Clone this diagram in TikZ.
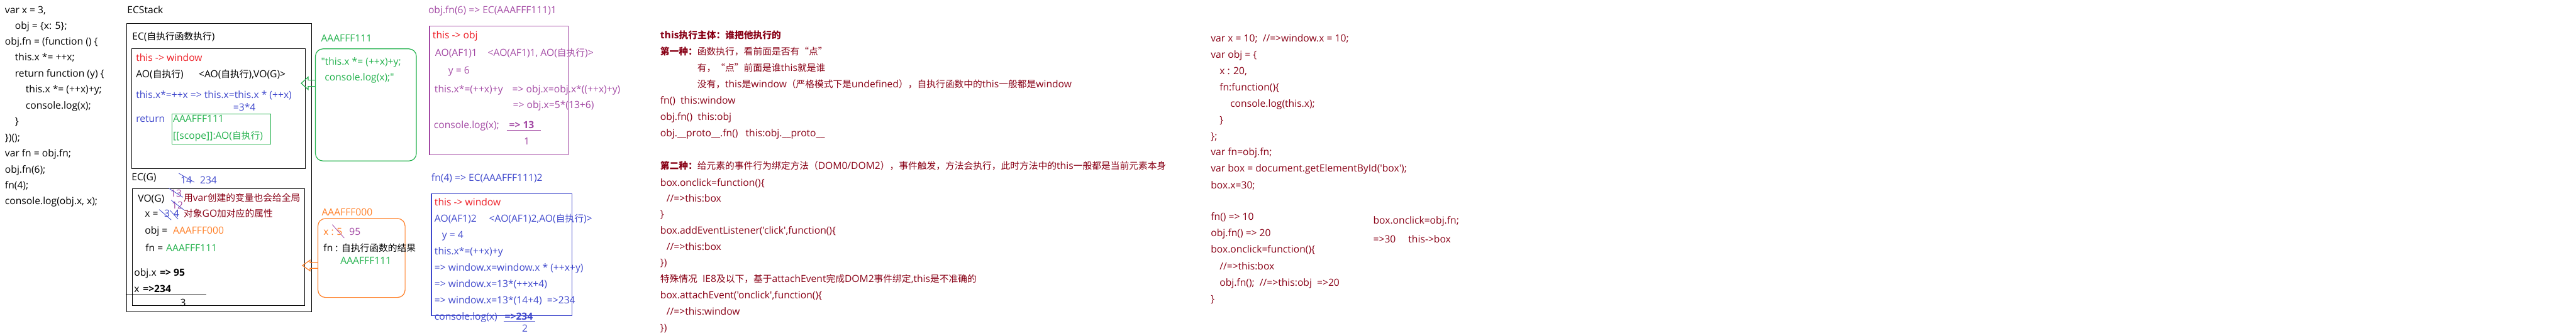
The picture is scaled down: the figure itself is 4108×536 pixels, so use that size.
\documentclass[tikz,border=0pt]{standalone}
\usepackage{fontspec}
\setmainfont{Open Sans}[Scale=1.06, Ligatures=TeXOff]
\newfontfamily\cjkfont{Noto Sans CJK SC}[Ligatures=TeXOff]
% switch to the CJK face for Chinese runs
\XeTeXinterchartokenstate=1
\newXeTeXintercharclass\cjkcls
\newcount\cjkc
\cjkc="3000
\loop
	\XeTeXcharclass\cjkc=\cjkcls
	\ifnum\cjkc<"9FFF \advance\cjkc by 1
\repeat
\cjkc="FF00
\loop
	\XeTeXcharclass\cjkc=\cjkcls
	\ifnum\cjkc<"FFEF \advance\cjkc by 1
\repeat
\XeTeXcharclass"201C=\cjkcls
\XeTeXcharclass"201D=\cjkcls
\XeTeXinterchartoks 0 \cjkcls={\begingroup\cjkfont}
\XeTeXinterchartoks 4095 \cjkcls={\begingroup\cjkfont}
\XeTeXinterchartoks \cjkcls 0={\endgroup}
\XeTeXinterchartoks \cjkcls 4095={\endgroup}
\usepackage{xcolor}
\usepackage{tikz}
\usetikzlibrary{fit}
\definecolor{pred}{HTML}{ED1C24}
\definecolor{pblue}{HTML}{3F48CC}
\definecolor{ppurple}{HTML}{A349A4}
\definecolor{pgreen}{HTML}{22B14C}
\definecolor{porange}{HTML}{FF7F27}
\definecolor{pdark}{HTML}{880015}
\tikzset{
	ln/.style={anchor=base west, inner sep=0pt, outer sep=0pt},
	cnt/.style={anchor=base, inner sep=0pt, outer sep=0pt},
	box/.style={draw, line width=0.6pt, inner sep=0pt},
	rbox/.style={draw=#1, line width=0.6pt, rounded corners=6pt, inner sep=0pt},
	strk/.style={line width=0.4pt},
}

\begin{document}
\begin{tikzpicture}[x=0.5pt, y=-0.5pt, font=\fontsize{7.4}{9}\selectfont]
	\useasboundingbox (0,0) rectangle (4108,536);
	% source code
	\node[ln] (c1) at (8,22) {var x = 3,};
	\node[ln] (c2) at (24,47) {obj = \{x: 5\};};
	\node[ln] (c3) at (8,72) {obj.fn = (function () \{};
	\node[ln] (c4) at (24,97) {this.x *= ++x;};
	\node[ln] (c5) at (24,123) {return function (y) \{};
	\node[ln] (c6) at (41,148) {this.x *= (++x)+y;};
	\node[ln] (c7) at (41,174) {console.log(x);};
	\node[ln] (c8) at (24,199) {\}};
	\node[ln] (c9) at (8,225) {\})();};
	\node[ln] (c10) at (8,250) {var fn = obj.fn;};
	\node[ln] (c11) at (8,276) {obj.fn(6);};
	\node[ln] (c12) at (8,301) {fn(4);};
	\node[ln] (c13) at (8,326) {console.log(obj.x, x);};
	% ECStack
	\node[ln] (ecs) at (203,22) {ECStack};
	\node[box, fit={(202,38) (497,498)}] (stack) {};
	\node[ln] (ecfnlbl) at (211,64) {EC(自执行函数执行)};
	\node[box, fit={(210,78) (487,269)}] (ecfn) {};
	\node[ln, text=pred] (thw1) at (217,98) {this -> window};
	\node[ln] (aof) at (217,124) {AO(自执行)};
	\node[ln] (aofsc) at (317,124) {<AO(自执行),VO(G)>};
	\node[ln, text=pblue] (cal1) at (217,157) {this.x*=++x => this.x=this.x * (++x)};
	\node[ln, text=pblue] (cal2) at (372,177) {=3*4};
	\node[ln, text=pblue] (ret) at (217,195) {return};
	\node[box, draw=pgreen, fit={(274,182) (432,230)}] (retbox) {};
	\node[ln, text=pgreen] (reta) at (276,195) {AAAFFF111};
	\node[ln, text=pgreen] (rets) at (276,222) {[[scope]]:AO(自执行)};
	% global context
	\node[ln] (ecglbl) at (210,288) {EC(G)};
	\node[box, fit={(211,301) (486,488)}] (vog) {};
	\node[ln] (vogt) at (220,322) {VO(G)};
	\node[ln] (xeq) at (231,347) {x =};
	\node[ln, text=pblue] (x3) at (262,347) {3};
	\node[ln, text=pblue] (x4) at (277,347) {4};
	\node[ln] (objeq) at (231,374) {obj =};
	\node[ln, text=porange] (objad) at (276,374) {AAAFFF000};
	\node[ln] (fneq) at (232,402) {fn =};
	\node[ln, text=pgreen] (fnad) at (265,402) {AAAFFF111};
	\node[ln] (objx) at (214,441) {obj.x};
	\node[ln] (objxv) at (255,441) {\textbf{=> 95}};
	\node[ln] (xr) at (214,467) {x};
	\node[ln] (xrv) at (228,467) {\textbf{=>234}};
	\draw[line width=0.6pt] (201,471) -- (329,471);
	\node[cnt] (n3) at (292,489) {3};
	\node[ln, text=pblue] (n14) at (288,293) {14};
	\node[ln, text=pblue] (n234) at (319,293) {234};
	\node[ln, text=ppurple] (n13) at (272,314) {13};
	\node[ln, text=ppurple] (n12) at (274,333) {12};
	\node[ln, text=pdark] (nt1) at (293,321) {用var创建的变量也会给全局};
	\node[ln, text=pdark] (nt2) at (293,347) {对象GO加对应的属性};
	\draw[strk, pblue] ([shift={(-3,-5)}]n14.north west) -- ([shift={(4,-2)}]n14.south east);
	\draw[strk, pblue] ([shift={(-3,-2)}]n13.north west) -- ([shift={(2,1)}]n13.south east);
	\draw[strk, pblue] ([shift={(-1,-2)}]n12.north west) -- ([shift={(1,2)}]n12.south east);
	\draw[strk, pblue] ([shift={(-8,-1)}]x3.north west) -- ([shift={(2,4)}]x3.south east);
	\draw[strk, pblue] ([shift={(-6,0)}]x4.north west) -- ([shift={(-2,3)}]x4.south east);
	% heap: function
	\node[ln, text=pgreen] (fnlbl) at (512,67) {AAAFFF111};
	\node[rbox=pgreen, fit={(503,78) (664,257)}] (fnheap) {};
	\node[ln, text=pgreen] (fnh1) at (512,104) {"this.x *= (++x)+y;};
	\node[ln, text=pgreen] (fnh2) at (518,129) {console.log(x);"};
	\coordinate (ga) at (fnheap.west |- 0,133);
	\draw[pgreen, line width=0.6pt] (ga) ++(0,-5) -- ++(-11,0) -- ++(0,-5) -- ++(-11,10) -- ++(11,10) -- ++(0,-5) -- ++(11,0);
	% heap: object
	\node[ln, text=porange] (objlbl) at (513,344) {AAAFFF000};
	\node[rbox=porange, fit={(507,349) (646,475)}] (objheap) {};
	\node[ln, text=porange] (ox) at (516,376) {x :};
	\node[ln, text=porange] (ox5) at (537,376) {5};
	\node[ln, text=ppurple] (ox95) at (557,376) {95};
	\node[ln] (ofn) at (516,402) {fn : 自执行函数的结果};
	\node[ln, text=pgreen] (ofnad) at (543,422) {AAAFFF111};
	\draw[strk, ppurple] ([shift={(-7,-6)}]ox5.north west) -- ([shift={(3,4)}]ox5.south east);
	\coordinate (oa) at (objheap.west |- 0,424);
	\draw[porange, line width=0.6pt] (oa) ++(0,-4.5) -- ++(-12,0) -- ++(0,-4) -- ++(-12,8.5) -- ++(12,8.5) -- ++(0,-4) -- ++(12,0);
	% obj.fn(6)
	\node[ln, text=ppurple] (af1lbl) at (683,22) {obj.fn(6) => EC(AAAFFF111)1};
	\node[box, draw=ppurple, fit={(685,42) (906,247)}] (af1) {};
	\node[ln, text=pred] (af1t) at (690,62) {this -> obj};
	\node[ln, text=ppurple] (af1ao) at (694,90) {AO(AF1)1};
	\node[ln, text=ppurple] (af1sc) at (778,90) {<AO(AF1)1, AO(自执行)>};
	\node[ln, text=ppurple] (af1y) at (715,118) {y = 6};
	\node[ln, text=ppurple] (af1c1) at (693,148) {this.x*=(++x)+y};
	\node[ln, text=ppurple] (af1c2) at (817,148) {=> obj.x=obj.x*((++x)+y)};
	\node[ln, text=ppurple] (af1c3) at (818,173) {=> obj.x=5*(13+6)};
	\node[ln, text=ppurple] (af1log) at (692,205) {console.log(x);};
	\node[ln, text=ppurple] (af1out) at (812,205) {\textbf{=> 13}};
	\draw[ppurple, line width=0.6pt] (808,208) -- (863,208);
	\node[cnt, text=ppurple] (af1n) at (840,231) {1};
	% fn(4)
	\node[ln, text=pblue] (af2lbl) at (688,289) {fn(4) => EC(AAAFFF111)2};
	\node[box, draw=pblue, fit={(688,309) (912,504)}] (af2) {};
	\node[ln, text=pred] (af2t) at (693,328) {this -> window};
	\node[ln, text=pblue] (af2ao) at (693,355) {AO(AF1)2};
	\node[ln, text=pblue] (af2sc) at (780,355) {<AO(AF1)2,AO(自执行)>};
	\node[ln, text=pblue] (af2y) at (705,381) {y = 4};
	\node[ln, text=pblue] (af2c1) at (693,407) {this.x*=(++x)+y};
	\node[ln, text=pblue] (af2c2) at (693,433) {=> window.x=window.x * (++x+y)};
	\node[ln, text=pblue] (af2c3) at (693,459) {=> window.x=13*(++x+4)};
	\node[ln, text=pblue] (af2c4) at (693,485) {=> window.x=13*(14+4)\ \ =>234};
	\node[ln, text=pblue] (af2log) at (693,511) {console.log(x)};
	\node[ln, text=pblue] (af2out) at (805,511) {\textbf{=>234}};
	\draw[pblue, line width=0.6pt] (803,513) -- (853,513);
	\node[cnt, text=pblue] (af2n) at (837,530) {2};
	% notes on this
	\node[ln, text=pdark] (t1) at (1053,62) {\textbf{this执行主体：谁把他执行的}};
	\node[ln, text=pdark] (t2) at (1053,88) {\textbf{第一种：}函数执行，看前面是否有“点”};
	\node[ln, text=pdark] (t3) at (1112,114) {有，“点”前面是谁this就是谁};
	\node[ln, text=pdark] (t4) at (1112,140) {没有，this是window（严格模式下是undefined），自执行函数中的this一般都是window};
	\node[ln, text=pdark] (t5) at (1053,166) {fn()\ \ this:window};
	\node[ln, text=pdark] (t6) at (1053,192) {obj.fn()\ \ this:obj};
	\node[ln, text=pdark] (t7) at (1053,218) {obj.\_\_proto\_\_.fn()\ \ \ this:obj.\_\_proto\_\_};
	\node[ln, text=pdark] (t8) at (1053,270) {\textbf{第二种：}给元素的事件行为绑定方法（DOM0/DOM2），事件触发，方法会执行，此时方法中的this一般都是当前元素本身};
	\node[ln, text=pdark] (t9) at (1053,297) {box.onclick=function()\{};
	\node[ln, text=pdark] (t10) at (1063,322) {//=>this:box};
	\node[ln, text=pdark] (t11) at (1053,348) {\}};
	\node[ln, text=pdark] (t12) at (1053,374) {box.addEventListener('click',function()\{};
	\node[ln, text=pdark] (t13) at (1063,400) {//=>this:box};
	\node[ln, text=pdark] (t14) at (1053,425) {\})};
	\node[ln, text=pdark] (t15) at (1053,451) {特殊情况\ \ IE8及以下，基于attachEvent完成DOM2事件绑定,this是不准确的};
	\node[ln, text=pdark] (t16) at (1053,477) {box.attachEvent('onclick',function()\{};
	\node[ln, text=pdark] (t17) at (1063,503) {//=>this:window};
	\node[ln, text=pdark] (t18) at (1053,529) {\})};
	% example code
	\node[ln, text=pdark] (e1) at (1931,67) {var x = 10;\ \ //=>window.x = 10;};
	\node[ln, text=pdark] (e2) at (1931,93) {var obj = \{};
	\node[ln, text=pdark] (e3) at (1945,119) {x : 20,};
	\node[ln, text=pdark] (e4) at (1945,145) {fn:function()\{};
	\node[ln, text=pdark] (e5) at (1962,171) {console.log(this.x);};
	\node[ln, text=pdark] (e6) at (1945,197) {\}};
	\node[ln, text=pdark] (e7) at (1931,223) {\};};
	\node[ln, text=pdark] (e8) at (1931,248) {var fn=obj.fn;};
	\node[ln, text=pdark] (e9) at (1931,274) {var box = document.getElementById('box');};
	\node[ln, text=pdark] (e10) at (1931,301) {box.x=30;};
	\node[ln, text=pdark] (e11) at (1931,352) {fn() => 10};
	\node[ln, text=pdark] (e12) at (1931,378) {obj.fn() => 20};
	\node[ln, text=pdark] (e13) at (1931,404) {box.onclick=function()\{};
	\node[ln, text=pdark] (e14) at (1945,431) {//=>this:box};
	\node[ln, text=pdark] (e15) at (1945,457) {obj.fn();\ \ //=>this:obj\ \ =>20};
	\node[ln, text=pdark] (e16) at (1931,483) {\}};
	\node[ln, text=pdark] (b1) at (2190,358) {box.onclick=obj.fn;};
	\node[ln, text=pdark] (b2) at (2190,388) {=>30};
	\node[ln, text=pdark] (b3) at (2246,388) {this->box};
\end{tikzpicture}
\end{document}
